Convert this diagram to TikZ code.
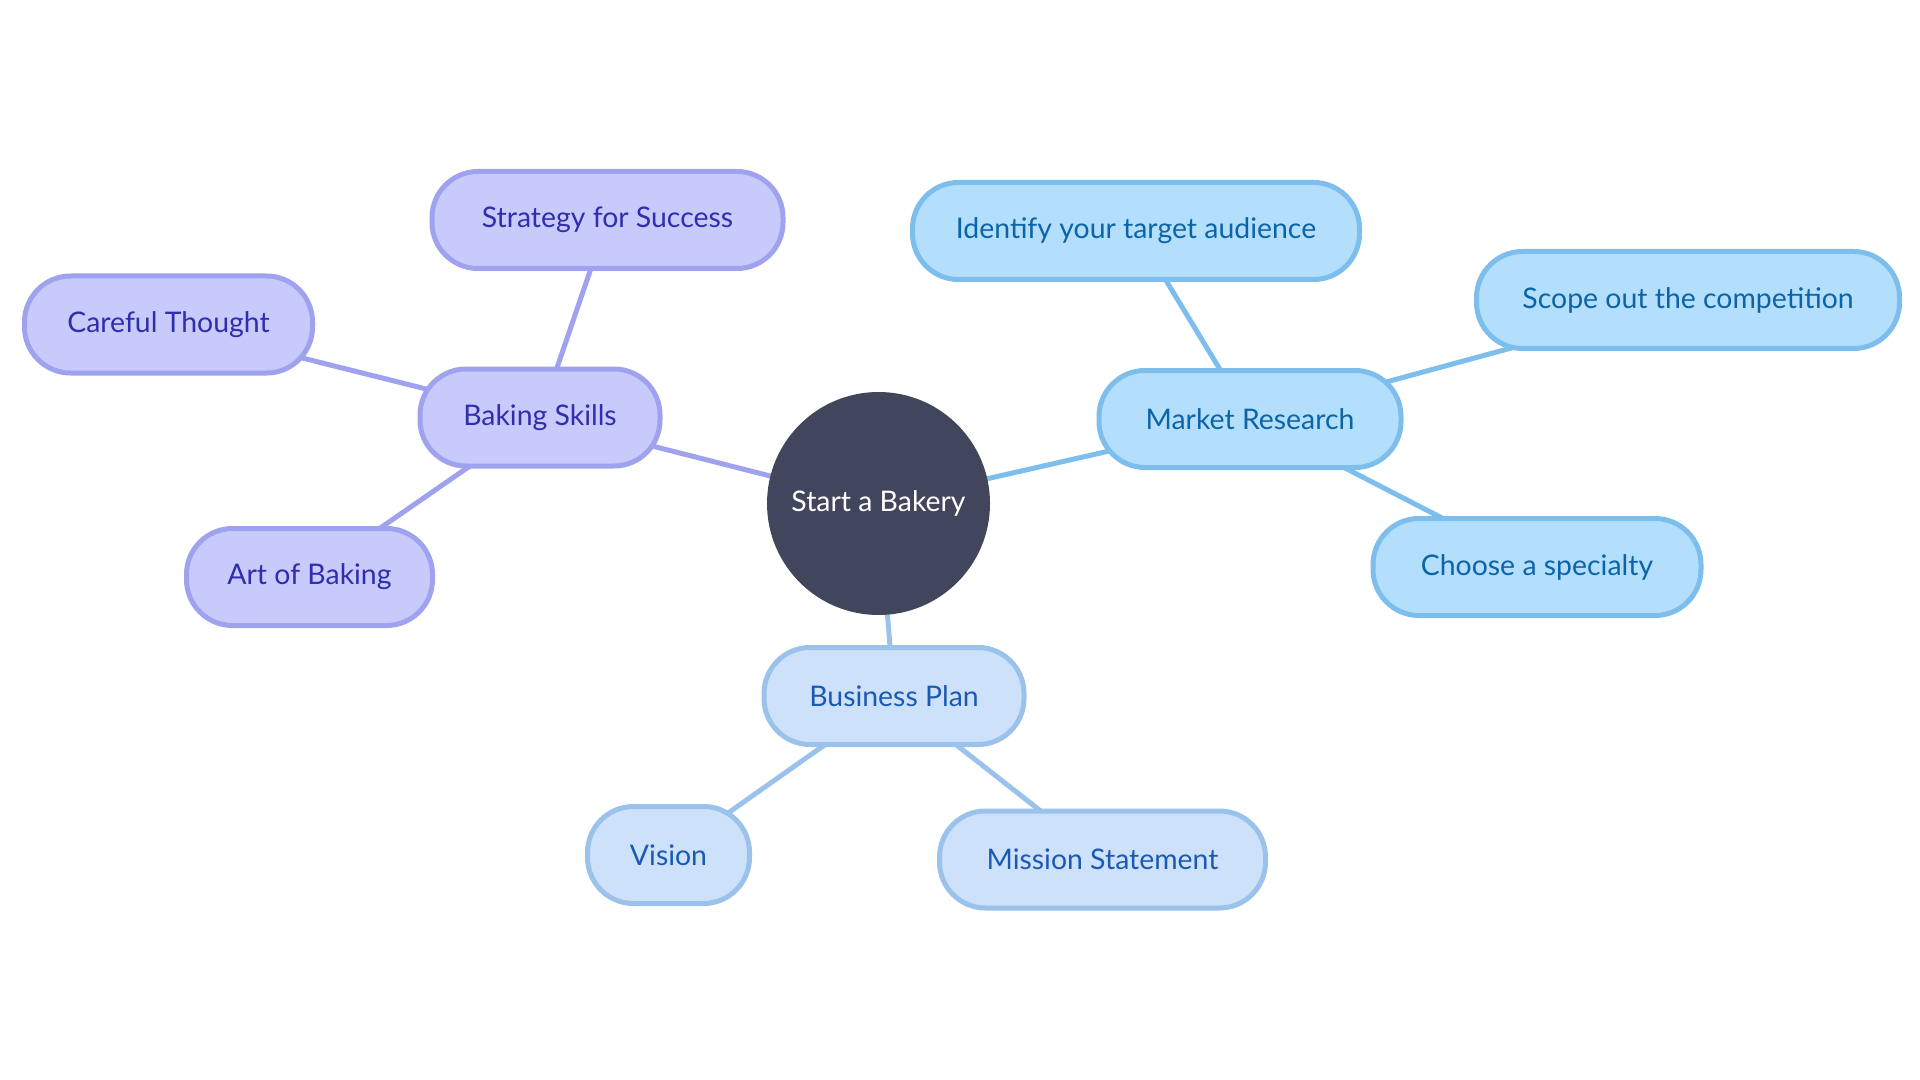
\documentclass[tikz,border=0pt]{standalone}
\usepackage{fontspec}
\setmainfont{Lato}
\usetikzlibrary{backgrounds}
\definecolor{rootfill}{HTML}{42465D}
\definecolor{pfill}{HTML}{C9CAFC}
\definecolor{pline}{HTML}{9FA2EE}
\definecolor{ptext}{HTML}{2E2EAE}
\definecolor{mfill}{HTML}{B3DFFD}
\definecolor{mline}{HTML}{7DBEEC}
\definecolor{mtext}{HTML}{0C64A8}
\definecolor{bfill}{HTML}{CDE2FA}
\definecolor{bline}{HTML}{9BC2EB}
\definecolor{btext}{HTML}{1A5AB4}
\tikzset{
  box/.style={rounded corners=23pt, line width=2.5pt, minimum height=48.5pt, inner sep=0pt, font=\fontsize{14.2}{17}\selectfont},
  pbox/.style={box, fill=pfill, draw=pline, text=ptext},
  mbox/.style={box, fill=mfill, draw=mline, text=mtext},
  bbox/.style={box, fill=bfill, draw=bline, text=btext},
  pedge/.style={draw=pline, line width=2.5pt},
  medge/.style={draw=mline, line width=2.5pt},
  bedge/.style={draw=bline, line width=2.5pt},
  rootnode/.style={circle, fill=rootfill, text=white, minimum size=111.5pt, inner sep=0pt, font=\fontsize{14.2}{17}\selectfont}
}
\begin{document}
\begin{tikzpicture}[x=0.5pt,y=-0.5pt]
\useasboundingbox (0,0) rectangle (1920,1080);
\node[rootnode] (root) at (878.5,503.5) {Start a Bakery};
\node[pbox, minimum width=120pt] (baking) at (540,417.5) {Baking Skills};
\node[pbox, minimum width=175.5pt] (strategy) at (607.5,220) {Strategy for Success};
\node[pbox, minimum width=144pt] (careful) at (168.5,324.5) {Careful Thought};
\node[pbox, minimum width=123pt] (art) at (309.5,577) {Art of Baking};
\node[mbox, minimum width=151pt] (market) at (1250,419) {Market Research};
\node[mbox, minimum width=223.5pt] (identify) at (1136,231) {Identify your target audience};
\node[mbox, minimum width=211.5pt] (scope) at (1688,300) {Scope out the competition};
\node[mbox, minimum width=164pt] (choose) at (1537,567) {Choose a specialty};
\node[bbox, minimum width=130pt] (business) at (894,696) {Business Plan};
\node[bbox, minimum width=81pt] (vision) at (668.5,855) {Vision};
\node[bbox, minimum width=163pt] (mission) at (1102.5,859.5) {Mission Statement};
\begin{scope}[on background layer]
\draw[pedge] (root.center) -- (baking.center);
\draw[pedge] (baking.center) -- (strategy.center);
\draw[pedge] (baking.center) -- (careful.center);
\draw[pedge] (baking.center) -- (art.center);
\draw[medge] (root.center) -- (market.center);
\draw[medge] (market.center) -- (identify.center);
\draw[medge] (market.center) -- (scope.center);
\draw[medge] (market.center) -- (choose.center);
\draw[bedge] (root.center) -- (business.center);
\draw[bedge] (business.center) -- (vision.center);
\draw[bedge] (business.center) -- (mission.center);
\end{scope}
\end{tikzpicture}
\end{document}
